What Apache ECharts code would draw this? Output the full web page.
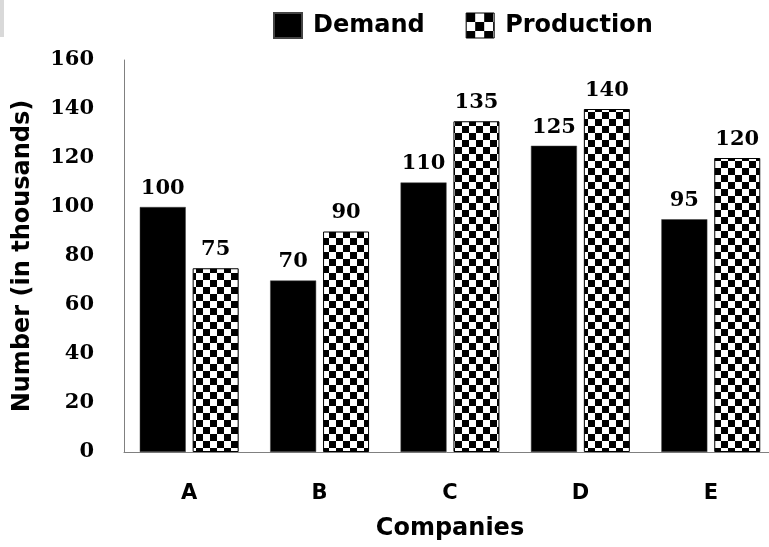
<!DOCTYPE html>
<html>
<head>
<meta charset="utf-8">
<script src="https://cdn.jsdelivr.net/npm/echarts@6/dist/echarts.min.js"></script>
<style>html,body{margin:0;padding:0;background:#fff;}#c{width:769px;height:547px;}</style>
</head>
<body>
<div id="c"></div>
<script>
const categories = ['A', 'B', 'C', 'D', 'E'];
const demand = [100, 70, 110, 125, 95];
const production = [75, 90, 135, 140, 120];
const yTicks = { min: 0, max: 160, interval: 20 };

function checker(cell) {
  const c = document.createElement('canvas');
  c.width = cell * 2; c.height = cell * 2;
  const g = c.getContext('2d');
  g.fillStyle = '#fff'; g.fillRect(0, 0, cell * 2, cell * 2);
  g.fillStyle = '#000';
  g.fillRect(0, 0, cell, cell);
  g.fillRect(cell, cell, cell, cell);
  return c;
}
const pat = { image: checker(7), repeat: 'repeat' };

const chart = echarts.init(document.getElementById('c'), null, { renderer: 'canvas' });
const labelFont = { fontFamily: 'DejaVu Serif', fontWeight: 'bold', fontSize: 21, color: '#000' };
chart.setOption({
  animation: false,
  backgroundColor: '#fff',
  graphic: [{ type: 'rect', left: 0, top: 0, shape: { width: 4, height: 37 }, style: { fill: '#d9d9d9' } }],
  legend: {
    top: 12, left: 273, padding: 0,
    icon: 'rect',
    itemWidth: 28, itemHeight: 25, itemGap: 41,
    textStyle: { fontFamily: 'DejaVu Sans', fontWeight: 'bold', fontSize: 24, color: '#000', padding: [0, 0, 0, 6] },
    data: [
      { name: 'Demand', itemStyle: { color: '#000' } },
      { name: 'Production', itemStyle: { color: { image: checker(9), repeat: 'repeat' }, borderColor: '#000', borderWidth: 1 } }
    ]
  },
  grid: { left: 124, top: 60, width: 652, bottom: 95, containLabel: false, outerBoundsMode: 'none' },
  xAxis: {
    type: 'category', data: categories,
    name: 'Companies', nameLocation: 'middle', nameGap: 65,
    nameTextStyle: { fontFamily: 'DejaVu Sans', fontWeight: 'bold', fontSize: 24, color: '#000' },
    axisLine: { lineStyle: { color: '#808080', width: 1 } },
    axisTick: { show: false },
    axisLabel: { margin: 31, fontFamily: 'DejaVu Sans', fontWeight: 'bold', fontSize: 21, color: '#000' }
  },
  yAxis: {
    type: 'value', min: yTicks.min, max: yTicks.max, interval: yTicks.interval,
    name: 'Number (in thousands)', nameLocation: 'middle', nameGap: 89,
    nameTextStyle: { fontFamily: 'DejaVu Sans', fontWeight: 'bold', fontSize: 24, color: '#000' },
    axisLine: { show: true, lineStyle: { color: '#808080', width: 1 } },
    axisTick: { show: false },
    splitLine: { show: false },
    axisLabel: Object.assign({ margin: 30 }, labelFont)
  },
  series: [
    {
      name: 'Demand', type: 'bar', data: demand,
      barWidth: 46, barGap: '15%',
      itemStyle: { color: '#000', borderColor: '#444', borderWidth: 0.5 },
      label: Object.assign({ show: true, position: 'top', distance: 8 }, labelFont)
    },
    {
      name: 'Production', type: 'bar', data: production,
      barWidth: 46,
      itemStyle: { color: pat, borderColor: '#000', borderWidth: 1 },
      label: Object.assign({ show: true, position: 'top', distance: 8 }, labelFont)
    }
  ]
});
</script>
</body>
</html>
